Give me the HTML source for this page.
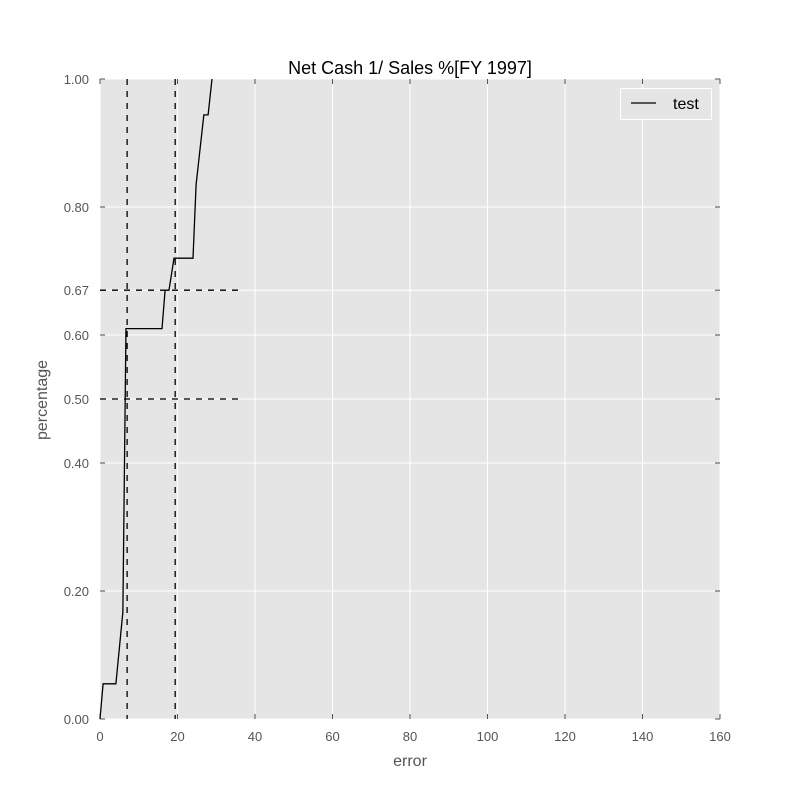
<!DOCTYPE html>
<html><head><meta charset="utf-8"><style>
body{margin:0;background:#fff;}
svg text{font-family:"Liberation Sans",sans-serif;}
</style></head><body>
<svg width="800" height="800" xmlns="http://www.w3.org/2000/svg">
<rect x="0" y="0" width="800" height="800" fill="#fff"/>
<rect x="100" y="79" width="620" height="640" fill="#e5e5e5"/>
<g id="grid"></g>
<g id="axes"></g>
<g id="marks"></g>
<text x="410" y="74" text-anchor="middle" font-size="18" fill="#000">Net Cash 1/ Sales %[FY 1997]</text>
<text x="410" y="766" text-anchor="middle" font-size="16" fill="#555">error</text>
<text x="47" y="400" text-anchor="middle" font-size="16" fill="#555" transform="rotate(-90 47 400)">percentage</text>
<g>
<rect x="620.5" y="88.5" width="91" height="31" fill="#e5e5e5" stroke="#fff" stroke-width="1"/>
<line x1="631" y1="103" x2="656" y2="103" stroke="#000" stroke-width="1.3"/>
<text x="673" y="109" font-size="16" fill="#000">test</text>
</g>
</svg>
<script>
const xTicks=[0,20,40,60,80,100,120,140,160];
const yTicks=[0,0.2,0.4,0.5,0.6,0.67,0.8,1.0];
const yTickLabels=["0.00","0.20","0.40","0.50","0.60","0.67","0.80","1.00"];
const seriesX=[0,0.8,4.1,5.9,6.7,16,16.8,17.8,19.1,24,24.8,26.8,27.9,28.9];
const seriesY=[0,0.055,0.055,0.167,0.61,0.61,0.67,0.67,0.72,0.72,0.835,0.944,0.944,1.0];
const vLines=[7.0,19.4];
const hLines=[0.5,0.67];
const hLineEnd=37;
const NS="http://www.w3.org/2000/svg";
const X=v=>100+v*620/160;
const Y=v=>719-v*640;
function mk(t,a,p){const e=document.createElementNS(NS,t);for(const k in a)e.setAttribute(k,a[k]);p.appendChild(e);return e;}
const grid=document.getElementById('grid'),axes=document.getElementById('axes'),marks=document.getElementById('marks');
xTicks.forEach(v=>{
 const g=mk('line',{x1:X(v),x2:X(v),y1:79,y2:719,stroke:'#fff','stroke-width':1},grid);
 
 
 mk('line',{x1:X(v),x2:X(v),y1:719,y2:714,stroke:'#555'},axes);
 mk('line',{x1:X(v),x2:X(v),y1:79,y2:84,stroke:'#555'},axes);
 const t=mk('text',{x:X(v),y:741,'text-anchor':'middle','font-size':13,fill:'#555'},axes);
 t.textContent=v;
 
 
});
yTicks.forEach((v,i)=>{
 const g=mk('line',{x1:100,x2:720,y1:Y(v),y2:Y(v),stroke:'#fff','stroke-width':1},grid);
 
 
 mk('line',{x1:100,x2:105,y1:Y(v),y2:Y(v),stroke:'#555'},axes);
 mk('line',{x1:715,x2:720,y1:Y(v),y2:Y(v),stroke:'#555'},axes);
 const t=mk('text',{x:89,y:Y(v)+5,'text-anchor':'end','font-size':13,fill:'#555'},axes);
 t.textContent=yTickLabels[i];
 
 
});
vLines.forEach(v=>{
 const l=mk('line',{x1:X(v),x2:X(v),y1:79,y2:719,stroke:'#000','stroke-width':1.3,'stroke-dasharray':'6,6'},marks);
 
 
});
hLines.forEach(v=>{
 const l=mk('line',{x1:100,x2:X(hLineEnd),y1:Y(v),y2:Y(v),stroke:'#000','stroke-width':1.3,'stroke-dasharray':'6,6'},marks);
 
 
});
const pts=seriesX.map((x,i)=>X(x)+','+Y(seriesY[i])).join(' ');
const pl=mk('polyline',{points:pts,fill:'none',stroke:'#000','stroke-width':1.3},marks);


</script>
</body></html>
